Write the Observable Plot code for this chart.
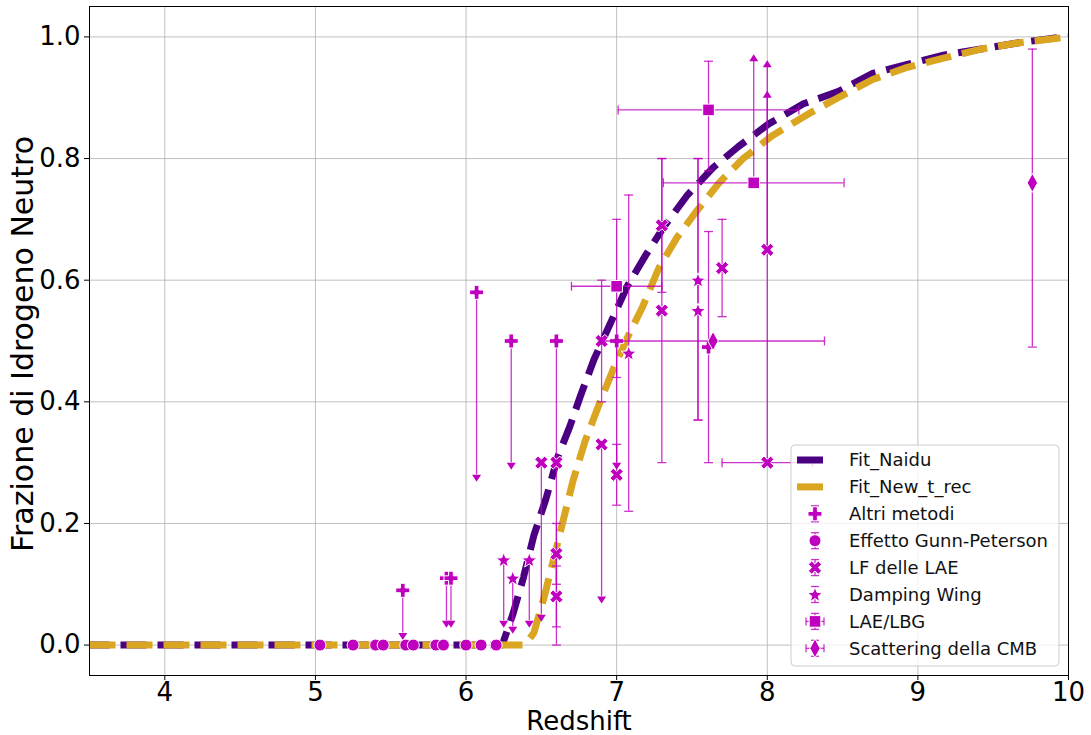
<!DOCTYPE html>
<html><head><meta charset="utf-8">
<script src="https://cdn.jsdelivr.net/npm/d3@7"></script>
<script src="https://cdn.jsdelivr.net/npm/@observablehq/plot@0.6"></script>
<style>body{margin:0;background:#fff}#chart{width:1091px;height:735px}</style>
</head><body><div id="chart"></div>
<script>
// ---------- data ----------
const xTicks = [4, 5, 6, 7, 8, 9, 10];
const yTicks = [0, 0.2, 0.4, 0.6, 0.8, 1.0];

// fit curves
const naiduZ = [3.5, 6.24, 6.31, 6.38, 6.45, 6.53, 6.61, 6.69, 6.76, 6.85, 6.96, 7.07, 7.19, 7.32, 7.47, 7.64, 7.81, 8.01, 8.24, 8.47, 8.70, 8.93, 9.17, 9.42, 9.66, 9.90, 10.0];
const naiduX = [0, 0, 0.05, 0.11, 0.18, 0.24, 0.31, 0.36, 0.41, 0.47, 0.53, 0.59, 0.64, 0.69, 0.74, 0.785, 0.82, 0.857, 0.89, 0.91, 0.94, 0.955, 0.97, 0.98, 0.99, 0.998, 1.0];
const newTrecZ = [3.5, 6.39, 6.45, 6.52, 6.58, 6.64, 6.71, 6.79, 6.89, 6.98, 7.07, 7.17, 7.28, 7.40, 7.52, 7.68, 7.84, 8.03, 8.27, 8.47, 8.70, 8.93, 9.17, 9.42, 9.66, 9.90, 10.0];
const newTrecX = [0, 0, 0.02, 0.08, 0.14, 0.20, 0.27, 0.335, 0.40, 0.455, 0.505, 0.555, 0.62, 0.67, 0.71, 0.76, 0.80, 0.837, 0.873, 0.90, 0.93, 0.95, 0.965, 0.98, 0.99, 0.997, 1.0];

// Altri metodi
const altriZ   = [5.58, 5.87, 5.90, 6.07, 6.30, 6.60, 7.00, 7.61];
const altriX   = [0.09, 0.11, 0.11, 0.58, 0.50, 0.50, 0.50, 0.49];
const altriLo  = [0.07, 0.07, 0.07, 0.30, 0.20, 0.20, 0.20, 0.19];
const altriHi  = [0, 0, 0, 0, 0, 0, 0, 0.19];
const altriLim = ["ul", "ul", "ul", "ul", "ul", "ul", "ul", ""];

// Effetto Gunn-Peterson
const gpZ = [5.03, 5.25, 5.40, 5.45, 5.60, 5.65, 5.80, 5.85, 6.00, 6.10, 6.20];
const gpX = [0, 0, 0, 0, 0, 0, 0, 0, 0, 0, 0];

// LF delle LAE
const laeZ   = [6.50, 6.60, 6.60, 6.60, 6.90, 6.90, 7.00, 7.30, 7.30, 7.70, 8.00, 8.00];
const laeX   = [0.30, 0.30, 0.15, 0.08, 0.50, 0.33, 0.28, 0.69, 0.55, 0.62, 0.65, 0.30];
const laeLo  = [0.25, 0.30, 0.05, 0.05, 0.10, 0.25, 0.05, 0.11, 0.25, 0.08, 0, 0];
const laeHi  = [0, 0, 0.05, 0.05, 0.10, 0, 0.05, 0.11, 0.25, 0.08, 0.25, 0.65];
const laeLim = ["ul", "", "", "", "", "ul", "", "", "", "", "ll", "ll"];
const laeXe  = [0, 0, 0, 0, 0, 0, 0, 0, 0, 0, 0, 0.3];

// Damping Wing
const dwZ   = [6.25, 6.31, 6.42, 7.08, 7.54, 7.54];
const dwX   = [0.14, 0.11, 0.14, 0.48, 0.60, 0.55];
const dwLo  = [0.10, 0.08, 0.10, 0.26, 0.23, 0.18];
const dwHi  = [0, 0, 0, 0.26, 0.20, 0.25];
const dwLim = ["ul", "ul", "ul", "", "", ""];

// LAE/LBG
const lbgZ   = [7.00, 7.61, 7.91];
const lbgX   = [0.59, 0.88, 0.76];
const lbgLo  = [0.15, 0.10, 0];
const lbgHi  = [0.11, 0.08, 0.20];
const lbgLim = ["", "", "ll"];
const lbgXe  = [0.3, 0.6, 0.6];

// Scattering della CMB
const cmbZ  = [7.64, 9.76];
const cmbX  = [0.50, 0.76];
const cmbLo = [0, 0.27];
const cmbHi = [0, 0.22];
const cmbXe = [0.74, 0];

const legendLabels = ["Fit_Naidu", "Fit_New_t_rec", "Altri metodi", "Effetto Gunn-Peterson", "LF delle LAE", "Damping Wing", "LAE/LBG", "Scattering della CMB"];

// ---------- styles ----------
const M = "#bf00bf", NAIDU = "#4b0082", GOLD = "#daa520";
const FONT = "DejaVu Sans";

function poly(pts) { return {draw(c) { c.moveTo(pts[0][0], pts[0][1]); for (let i = 1; i < pts.length; i++) c.lineTo(pts[i][0], pts[i][1]); c.closePath(); }}; }
const a = 7, b = 2.35;
const plusPts = [[-b,-a],[b,-a],[b,-b],[a,-b],[a,b],[b,b],[b,a],[-b,a],[-b,b],[-a,b],[-a,-b],[-b,-b]];
const rot = (p, t) => [p[0]*Math.cos(t) - p[1]*Math.sin(t), p[0]*Math.sin(t) + p[1]*Math.cos(t)];
const starPts = d3.range(10).map(i => { const r = i % 2 ? 3.4 : 8; const t = -Math.PI/2 + i*Math.PI/5; return [r*Math.cos(t), r*Math.sin(t) + 0.6]; });
const SYM = {
  plus: poly(plusPts),
  x: poly(plusPts.map(p => rot(p, Math.PI/4))),
  circle: {draw(c) { c.moveTo(6, 0); c.arc(0, 0, 6, 0, 2*Math.PI); }},
  star: poly(starPts),
  square: poly([[-5.8,-5.8],[5.8,-5.8],[5.8,5.8],[-5.8,5.8]]),
  diamond: poly([[0,-9.5],[5.2,0],[0,9.5],[-5.2,0]]),
  capH: {draw(c) { c.moveTo(-4.5, 0); c.lineTo(4.5, 0); }},
  capV: {draw(c) { c.moveTo(0, -4.5); c.lineTo(0, 4.5); }},
  caretDown: poly([[-4.5,0],[4.5,0],[0,7]]),
  caretUp: poly([[-4.5,0],[4.5,0],[0,-7]])
};

function build(z, x, lo, hi, lim, xe) {
  return z.map((zi, i) => ({z: zi, x: x[i], lo: lo ? lo[i] : 0, hi: hi ? hi[i] : 0, lim: lim ? lim[i] : "", xe: xe ? xe[i] : 0}));
}
const series = [
  {rows: build(altriZ, altriX, altriLo, altriHi, altriLim), sym: SYM.plus},
  {rows: build(gpZ, gpX), sym: SYM.circle},
  {rows: build(laeZ, laeX, laeLo, laeHi, laeLim, laeXe), sym: SYM.x},
  {rows: build(dwZ, dwX, dwLo, dwHi, dwLim), sym: SYM.star},
  {rows: build(lbgZ, lbgX, lbgLo, lbgHi, lbgLim, lbgXe), sym: SYM.square},
  {rows: build(cmbZ, cmbX, cmbLo, cmbHi, null, cmbXe), sym: SYM.diamond}
];

const eStyle = {stroke: M, strokeWidth: 1.3, strokeOpacity: 0.8};
const seriesMarks = series.flatMap(s => {
  const r = s.rows;
  const v = r.filter(d => d.lo > 0 || d.hi > 0).map(d => ({z: d.z, y1: d.lim === "ll" ? d.x : d.x - d.lo, y2: d.lim === "ul" ? d.x : d.x + d.hi}));
  const capsH = r.filter(d => d.lim === "" && (d.lo > 0 || d.hi > 0)).flatMap(d => [{z: d.z, y: d.x - d.lo}, {z: d.z, y: d.x + d.hi}]);
  const down = r.filter(d => d.lim === "ul").map(d => ({z: d.z, y: d.x - d.lo}));
  const up = r.filter(d => d.lim === "ll").map(d => ({z: d.z, y: d.x + d.hi}));
  const h = r.filter(d => d.xe > 0).map(d => ({y: d.x, x1: d.z - d.xe, x2: d.z + d.xe}));
  const capsV = h.flatMap(d => [{z: d.x1, y: d.y}, {z: d.x2, y: d.y}]);
  return [
    Plot.ruleX(v, {x: "z", y1: "y1", y2: "y2", ...eStyle}),
    Plot.ruleY(h, {y: "y", x1: "x1", x2: "x2", ...eStyle}),
    Plot.dot(capsH, {x: "z", y: "y", symbol: SYM.capH, fill: "none", ...eStyle}),
    Plot.dot(capsV, {x: "z", y: "y", symbol: SYM.capV, fill: "none", ...eStyle}),
    Plot.dot(down, {x: "z", y: "y", symbol: SYM.caretDown, fill: M, stroke: "none"}),
    Plot.dot(up, {x: "z", y: "y", symbol: SYM.caretUp, fill: M, stroke: "none"}),
    Plot.dot(r, {x: "z", y: "x", symbol: s.sym, fill: M, stroke: "white", strokeWidth: 1})
  ];
});

const naiduRows = naiduZ.map((z, i) => ({z, x: naiduX[i]}));
const newRows = newTrecZ.map((z, i) => ({z, x: newTrecX[i]}));
const curveStyle = {x: "z", y: "x", strokeWidth: 7, strokeDasharray: "26,11", strokeLinecap: "butt"};

const chart = Plot.plot({
  width: 1091, height: 735,
  marginLeft: 89, marginRight: 23, marginTop: 6, marginBottom: 60,
  style: {fontFamily: FONT, fontSize: "26px", background: "white", color: "black"},
  x: {domain: [3.5, 10]},
  y: {domain: [-0.05, 1.05]},
  marks: [
    Plot.gridX(xTicks, {stroke: "#b0b0b0", strokeOpacity: 1, strokeWidth: 0.8}),
    Plot.gridY(yTicks, {stroke: "#b0b0b0", strokeOpacity: 1, strokeWidth: 0.8}),
    Plot.line(naiduRows, {...curveStyle, stroke: NAIDU, strokeDashoffset: 6}),
    Plot.line(newRows, {...curveStyle, stroke: GOLD}),
    ...seriesMarks,
    Plot.frame({stroke: "black", strokeWidth: 1}),
    Plot.axisX(xTicks, {tickSize: 5, tickPadding: 2, fontSize: 26, fontFamily: FONT, label: null, tickFormat: d => String(d)}),
    Plot.axisY(yTicks, {tickSize: 5, tickPadding: 4, fontSize: 26, fontFamily: FONT, label: null, tickFormat: d => d.toFixed(1)}),
    Plot.text(["Redshift"], {frameAnchor: "bottom", dy: 46, textAnchor: "middle", lineAnchor: "middle", fontSize: 26, fontFamily: FONT, fill: "black"}),
    Plot.text(["Frazione di Idrogeno Neutro"], {frameAnchor: "left", dx: -66, dy: 3, rotate: -90, textAnchor: "middle", lineAnchor: "middle", fontSize: 30, fontFamily: FONT, fill: "black"})
  ]
});
document.getElementById("chart").appendChild(chart);

// ---------- legend ----------
const svg = d3.select(chart);
const lg = svg.append("g").attr("font-family", FONT).attr("font-size", 18).attr("text-anchor", "start");
lg.append("rect").attr("x", 791).attr("y", 445).attr("width", 268).attr("height", 221).attr("rx", 4)
  .attr("fill", "white").attr("fill-opacity", 0.8).attr("stroke", "#cccccc");
const rowY = i => 460 + i * 26.9;
[NAIDU, GOLD].forEach((c, i) => {
  lg.append("line").attr("x1", 797).attr("x2", 823).attr("y1", rowY(i)).attr("y2", rowY(i)).attr("stroke", c).attr("stroke-width", 7);
});
const legSyms = [SYM.plus, SYM.circle, SYM.x, SYM.star, SYM.square, SYM.diamond];
const legXerr = [false, false, false, false, true, true];
legSyms.forEach((s, k) => {
  const i = k + 2, cx = 815, cy = rowY(i);
  const g = lg.append("g").attr("transform", `translate(${cx},${cy})`);
  const es = sel => sel.attr("stroke", M).attr("stroke-width", 1.3).attr("stroke-opacity", 0.8);
  es(g.append("line").attr("x1", 0).attr("x2", 0).attr("y1", -8).attr("y2", 8));
  es(g.append("line").attr("x1", -4).attr("x2", 4).attr("y1", -8).attr("y2", -8));
  es(g.append("line").attr("x1", -4).attr("x2", 4).attr("y1", 8).attr("y2", 8));
  if (legXerr[k]) {
    es(g.append("line").attr("x1", -9).attr("x2", 9).attr("y1", 0).attr("y2", 0));
    es(g.append("line").attr("x1", -9).attr("x2", -9).attr("y1", -4).attr("y2", 4));
    es(g.append("line").attr("x1", 9).attr("x2", 9).attr("y1", -4).attr("y2", 4));
  }
  g.append("path").attr("d", d3.symbol(s)()).attr("fill", M).attr("stroke", "white").attr("stroke-width", 1);
});
legendLabels.forEach((t, i) => {
  lg.append("text").attr("x", 849).attr("y", rowY(i)).attr("dy", "0.35em").attr("fill", "#111").text(t);
});
</script>
</body></html>
